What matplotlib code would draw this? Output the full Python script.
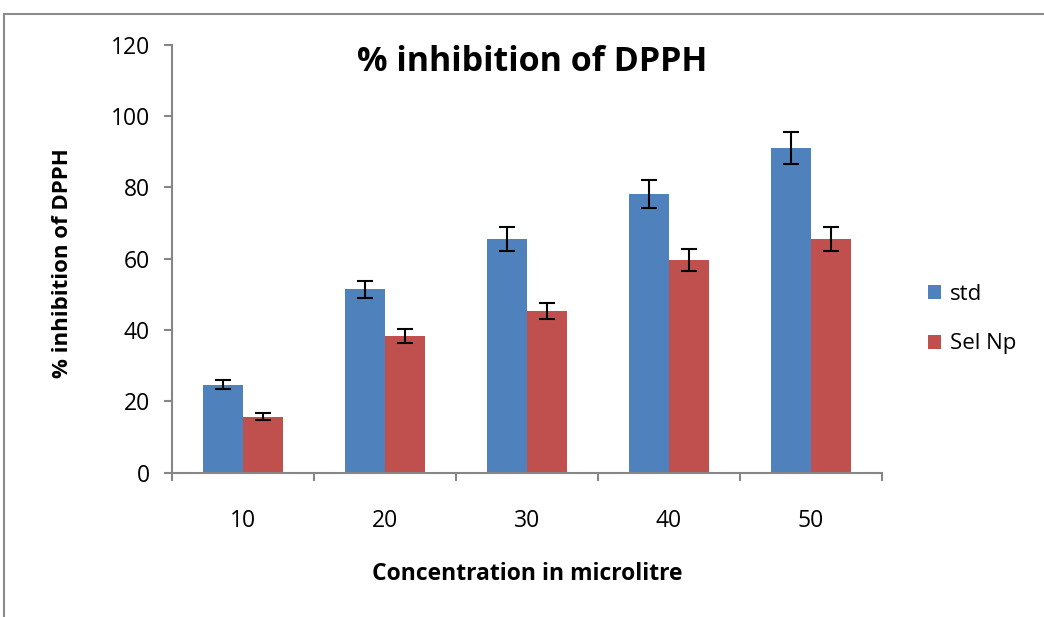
import numpy as np
import matplotlib.pyplot as plt
from matplotlib.patches import Rectangle

plt.rcParams['font.family'] = ['Open Sans', 'DejaVu Sans']

# data
concentrations = ["10", "20", "30", "40", "50"]
std_values = [24.7, 51.4, 65.6, 78.1, 91.1]
std_errors = [1.2, 2.4, 3.4, 3.9, 4.5]
selnp_values = [15.7, 38.3, 45.4, 59.6, 65.6]
selnp_errors = [0.9, 1.9, 2.2, 3.1, 3.4]

blue = "#4F81BD"
red = "#C0504D"
axis_grey = "#868686"

fig = plt.figure(figsize=(10.44, 6.17), dpi=100)
# outer chart frame
fig.patches.append(Rectangle((4 / 1044, -0.1), 1.2, (617 - 14) / 617 + 0.1,
                             transform=fig.transFigure, fill=False,
                             edgecolor="#8c8c8c", linewidth=1.5))

ax = fig.add_axes([172 / 1044, 1 - 472.7 / 617, (882 - 172) / 1044, (472.7 - 44.7) / 617])

x = np.arange(len(concentrations))
width = 0.28
ax.bar(x - width / 2, std_values, width, color=blue, label="std",
       yerr=std_errors, capsize=6, error_kw=dict(ecolor="black", elinewidth=1.5, capthick=1.5))
ax.bar(x + width / 2, selnp_values, width, color=red, label="Sel Np",
       yerr=selnp_errors, capsize=6, error_kw=dict(ecolor="black", elinewidth=1.5, capthick=1.5))

ax.set_xlim(-0.5, len(concentrations) - 0.5)
ax.set_ylim(0, 120)
ax.set_yticks(np.arange(0, 121, 20))
ax.set_xticks(x)
ax.set_xticklabels(concentrations)
ax.set_xticks(np.arange(-0.5, len(concentrations), 1), minor=True)
ax.tick_params(axis="x", which="major", length=0, pad=26, labelsize=16.5)
ax.tick_params(axis="x", which="minor", length=6, color=axis_grey, width=1.5)
ax.tick_params(axis="y", length=6, color=axis_grey, width=1.5, labelsize=16.5, pad=10)

for side in ["top", "right"]:
    ax.spines[side].set_visible(False)
for side in ["left", "bottom"]:
    ax.spines[side].set_color(axis_grey)
    ax.spines[side].set_linewidth(1.5)

fig.text(532 / 1044, 1 - 62 / 617, "% inhibition of DPPH", ha="center", va="center",
         fontsize=24.5, fontweight="bold")
fig.text(63 / 1044, 1 - 263 / 617, "% inhibition of DPPH", ha="center", va="center",
         rotation=90, fontsize=16, fontweight="bold")
fig.text(527 / 1044, 1 - 574 / 617, "Concentration in microlitre", ha="center", va="center",
         fontsize=16.5, fontweight="bold")

ax.legend(loc="center left", bbox_to_anchor=(908 / 1044, 1 - 319 / 617),
          bbox_transform=fig.transFigure, frameon=False, fontsize=16,
          handlelength=0.6, handleheight=0.6, handletextpad=0.4, labelspacing=1.3)

fig.savefig("out.png", dpi=100)
